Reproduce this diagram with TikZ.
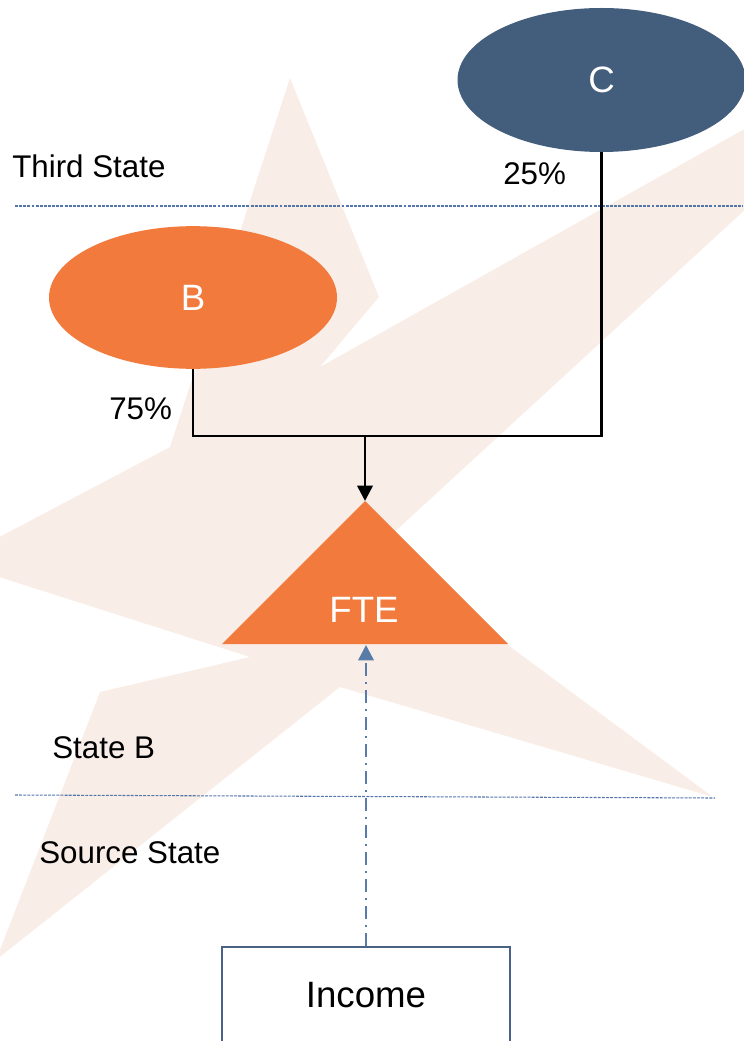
\documentclass[tikz,border=0pt]{standalone}
\usepackage{fontspec}
\setmainfont{Liberation Sans}
\usetikzlibrary{shapes.geometric,arrows.meta}
\definecolor{fteorange}{RGB}{242,122,61}
\definecolor{stateblue}{RGB}{67,94,125}
\definecolor{linkblue}{RGB}{88,124,167}
\definecolor{ruleblue}{RGB}{84,118,170}
\definecolor{boxblue}{RGB}{74,98,131}
\definecolor{starpale}{RGB}{249,237,232}
\tikzset{
  state/.style={ellipse,minimum width=216pt,minimum height=108pt,inner sep=0pt,
    text=white,font=\fontsize{27.5}{33}\selectfont},
  tag/.style={anchor=base west,inner sep=0pt,font=\fontsize{23.5}{28}\selectfont},
  divider/.style={draw=ruleblue,line width=0.8pt,dash pattern=on 2.2pt off 0.9pt},
  share/.style={line width=2pt},
  source/.style={draw=linkblue,line width=1.8pt,
    dash pattern=on 9.75pt off 4.5pt on 1.5pt off 4.5pt},
}
\begin{document}
\begin{tikzpicture}[x=0.75pt,y=-0.75pt]
  \useasboundingbox (0,0) rectangle (743,1041);
  % watermark star
  \fill[starpale] (290,78) -- (379,297) -- (320,367) -- (971,2) -- (377,548)
    -- (713,797) -- (340,687) -- (-4,960) -- (100,692) -- (250,657)
    -- (-48,562) -- (170,447) -- cycle;
  % state borders
  \draw[divider] (15,206) -- (743,206);
  \draw[divider] (15,795) -- (715,798);
  \node[tag] (third) at (12,178) {Third State};
  \node[tag] (stateb) at (52,758) {State B};
  \node[tag] (source) at (39,863) {Source State};
  % entities
  \node[state,fill=stateblue] (C) at (601.5,80) {C};
  \node[state,fill=fteorange,minimum height=107pt] (B) at (193,297.5) {B};
  \fill[fteorange] (365,501) coordinate (apex) -- (508,644) -- (222,644) -- cycle;
  \coordinate (base) at (365,645);
  \node[text=white,font=\fontsize{27.5}{33}\selectfont] (fte) at (364,610) {FTE};
  \node[draw=boxblue,line width=1.6pt,minimum width=216pt,minimum height=72pt,
    font=\fontsize{27.5}{33}\selectfont] (income) at (366,995) {Income};
  \node[tag] (pc) at (503,185) {25\%};
  \node[tag] (pb) at (109,419) {75\%};
  % links
  \coordinate (join) at (365,436);
  \begin{scope}[share]
    \draw (B.south) |- (join);
    \draw (C.south) |- (join);
    \draw[-{Triangle[length=11.5pt,width=11.5pt]}] (join) -- (apex);
  \end{scope}
  \draw[source,-{Triangle[length=11.5pt,width=11.5pt]}] (income.north) -- (income.north |- base);
\end{tikzpicture}
\end{document}
